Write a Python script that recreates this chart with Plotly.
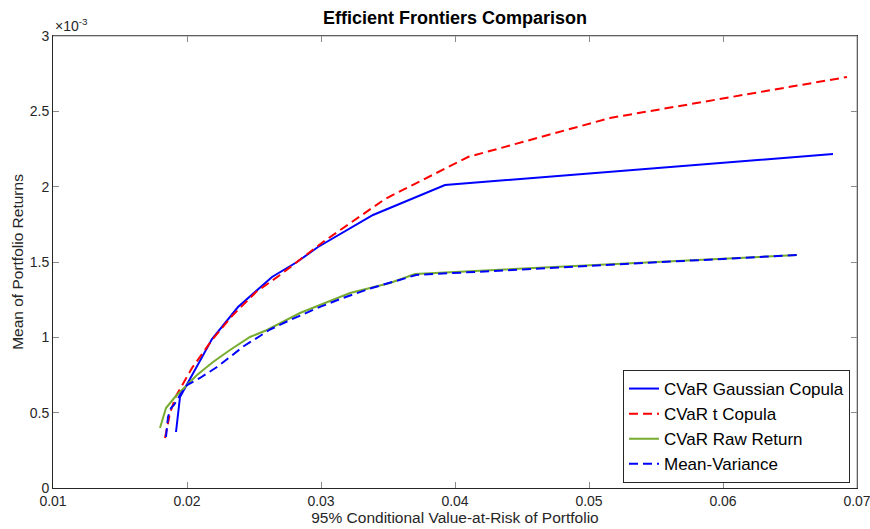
import plotly.graph_objects as go

# ---- data ----
gauss_x = [0.019179, 0.019478, 0.021866, 0.023806, 0.026343, 0.028209, 0.029776, 0.033881, 0.039254, 0.068209]
gauss_y = [0.3717e-3, 0.6040e-3, 0.9889e-3, 1.2013e-3, 1.4004e-3, 1.5000e-3, 1.5996e-3, 1.8119e-3, 2.0111e-3, 2.2168e-3]

tcop_x = [0.018358, 0.018731, 0.019179, 0.020373, 0.021866, 0.023358, 0.025149, 0.026940, 0.030149,
          0.034776, 0.040970, 0.051567, 0.069254]
tcop_y = [0.3319e-3, 0.4978e-3, 0.6106e-3, 0.7965e-3, 0.9823e-3, 1.1416e-3, 1.3009e-3, 1.4137e-3, 1.6327e-3,
          1.9181e-3, 2.1969e-3, 2.4558e-3, 2.7279e-3]

raw_x = [0.017985, 0.018433, 0.019104, 0.019851, 0.020746, 0.021940, 0.023209, 0.024701, 0.025970,
         0.028433, 0.032164, 0.035149, 0.037015, 0.065522]
raw_y = [0.3982e-3, 0.5310e-3, 0.6040e-3, 0.6704e-3, 0.7500e-3, 0.8363e-3, 0.9159e-3, 1.0022e-3, 1.0487e-3,
         1.1615e-3, 1.2942e-3, 1.3606e-3, 1.4204e-3, 1.5465e-3]

mv_x = [0.018433, 0.018582, 0.018806, 0.019030, 0.019478, 0.020000, 0.020970, 0.022239, 0.023209,
        0.024254, 0.025448, 0.026194, 0.027687, 0.029925, 0.031418, 0.033657, 0.035672, 0.037090, 0.065522]
mv_y = [0.3385e-3, 0.4712e-3, 0.5310e-3, 0.5509e-3, 0.6173e-3, 0.6836e-3, 0.7301e-3, 0.8031e-3, 0.8700e-3,
        0.9425e-3, 1.0089e-3, 1.0520e-3, 1.1150e-3, 1.2020e-3, 1.2540e-3, 1.3240e-3, 1.3760e-3, 1.4137e-3, 1.5465e-3]

x_ticks = [0.01, 0.02, 0.03, 0.04, 0.05, 0.06, 0.07]
x_ticktext = ["0.01", "0.02", "0.03", "0.04", "0.05", "0.06", "0.07"]
y_ticks = [0, 0.5e-3, 1e-3, 1.5e-3, 2e-3, 2.5e-3, 3e-3]
y_ticktext = ["0", "0.5", "1", "1.5", "2", "2.5", "3"]

FONT = "Liberation Sans, Arial, Helvetica, sans-serif"
DARK = "#262626"
DASH = "9px,5px"

fig = go.Figure()
fig.add_trace(go.Scatter(x=gauss_x, y=gauss_y, mode="lines", name="CVaR Gaussian Copula",
                         line=dict(color="#0000ff", width=2)))
fig.add_trace(go.Scatter(x=tcop_x, y=tcop_y, mode="lines", name="CVaR t Copula",
                         line=dict(color="#ff0000", width=2, dash=DASH)))
fig.add_trace(go.Scatter(x=raw_x, y=raw_y, mode="lines", name="CVaR Raw Return",
                         line=dict(color="#77ac30", width=2)))
fig.add_trace(go.Scatter(x=mv_x, y=mv_y, mode="lines", name="Mean-Variance",
                         line=dict(color="#0000ff", width=2, dash=DASH)))

axis_common = dict(showgrid=False, zeroline=False, showline=True, linecolor=DARK, linewidth=1,
                   mirror="ticks", ticks="inside", ticklen=6, tickcolor="#8a8a8a",
                   automargin=False, ticklabeloverflow="allow",
                   tickfont=dict(family=FONT, size=14, color=DARK))

fig.update_layout(
    width=870, height=529,
    margin=dict(l=53, r=13, t=36, b=41),
    paper_bgcolor="white", plot_bgcolor="white",
    title=dict(text="<b>Efficient Frontiers Comparison</b>", x=(53 + 857) / 2 / 870, xanchor="center",
               y=1 - 18 / 529, yanchor="middle", font=dict(family=FONT, size=18, color="black")),
    xaxis=dict(range=[0.01, 0.07], tickvals=x_ticks, ticktext=x_ticktext,
               title=dict(text="95% Conditional Value-at-Risk of Portfolio", standoff=4,
                          font=dict(family=FONT, size=15.5, color=DARK)), **axis_common),
    yaxis=dict(range=[0, 3e-3], tickvals=y_ticks, ticktext=y_ticktext,
               title=dict(text="Mean of Portfolio Returns", standoff=2,
                          font=dict(family=FONT, size=15.5, color=DARK)), **axis_common),
    legend=dict(x=(850 - 53) / 804, xanchor="right", y=(488 - 483) / 452, yanchor="bottom",
                bgcolor="white", bordercolor=DARK, borderwidth=1,
                font=dict(family=FONT, size=17, color="black"),
                itemwidth=30, tracegroupgap=0),
    showlegend=True,
)

fig.add_annotation(xref="paper", yref="paper", x=0, y=1, xanchor="left", yanchor="bottom",
                   showarrow=False,
                   text="×10<sup>-3</sup>", font=dict(family=FONT, size=14, color=DARK))

# lighter top/right box edges
fig.add_shape(type="line", xref="paper", yref="paper", x0=0, x1=1, y0=1, y1=1,
              line=dict(color="#9a9a9a", width=1), layer="above")
fig.add_shape(type="line", xref="paper", yref="paper", x0=1, x1=1, y0=0, y1=1,
              line=dict(color="#9a9a9a", width=1), layer="above")

fig.write_html("out.html", config={"displayModeBar": False},
               post_script="document.body.style.margin='0';")
